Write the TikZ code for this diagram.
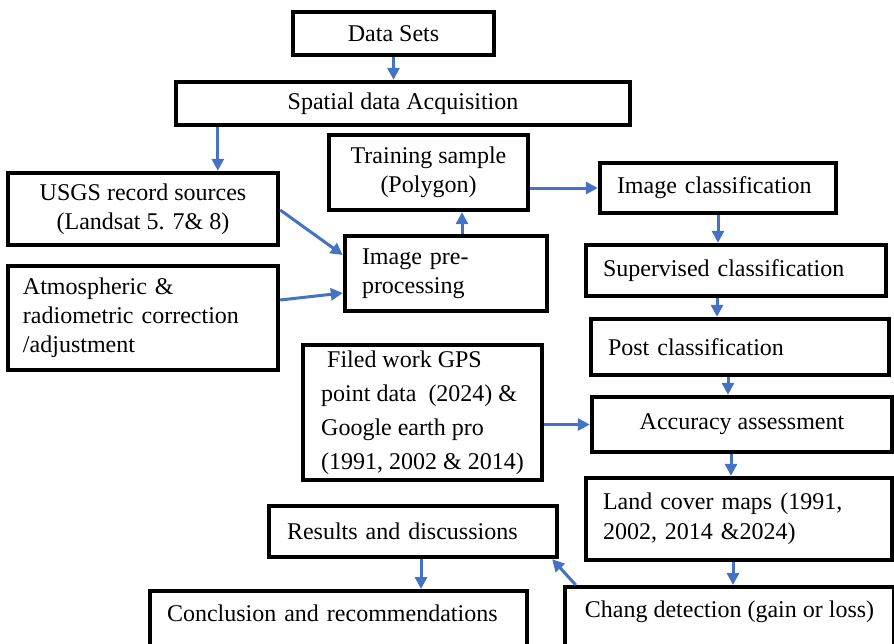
\documentclass[tikz,border=0pt]{standalone}
\usepackage{fontspec}
\setmainfont{Liberation Serif}
\usetikzlibrary{arrows.meta}
\definecolor{flowblue}{RGB}{68,114,196}

\begin{document}
\begin{tikzpicture}[x=0.5pt, y=-0.5pt, flow box/.style={draw, line width=2.2pt, fill=white, font=\fontsize{12}{14.5}\selectfont, align=center, inner sep=0pt}, flow arrow/.style={flowblue, line width=1.5pt, -{Triangle[length=6pt,width=6pt]}}]

      \useasboundingbox (0,0) rectangle (894,643);
      \clip (0,0) rectangle (894,643);

      \node[flow box, minimum width=100.5pt, minimum height=21.5pt] (1) at (393.5,33.5) {Data Sets};
      \node[flow box, minimum width=227pt, minimum height=21.5pt] (2) at (403,103.5) {Spatial data Acquisition};
      \node[flow box, minimum width=99.5pt, minimum height=37.5pt] (3) at (428.5,172.5) {Training sample\\(Polygon)};
      \node[flow box, minimum width=135pt, minimum height=36pt] (4) at (143,209) {USGS record sources\\(Landsat 5. 7\& 8)};
      \node[flow box, align=left, text width=101pt, inner xsep=8.5pt, minimum height=25pt] (5) at (718,188) {Image classification};
      \node[flow box, align=left, text width=84pt, inner xsep=8.5pt, minimum height=37.5pt] (6) at (446,273.5) {Image pre-\\processing};
      \node[flow box, align=left, text width=120pt, inner xsep=7.5pt, minimum height=52pt] (7) at (143,318) {Atmospheric \&\\radiometric correction\\/adjustment};
      \node[flow box, align=left, text width=133pt, inner xsep=8.5pt, minimum height=25.5pt] (8) at (736,270.5) {Supervised classification};
      \node[flow box, align=left, text width=132pt, inner xsep=8.5pt, minimum height=28pt] (9) at (740,347) {Post classification};
      \node[flow box, font=\fontsize{12}{17}\selectfont, align=left, minimum width=119.5pt, minimum height=67.5pt] (10) at (422.5,412.5) {\ Filed work GPS\\point data\ \ (2024) \&\\Google earth pro\\(1991, 2002 \& 2014)};
      \node[flow box, minimum width=150pt, minimum height=27.5pt] (11) at (742,424.5) {Accuracy assessment};
      \node[flow box, font=\fontsize{12}{15}\selectfont, align=left, text width=136pt, inner xsep=8.5pt, minimum height=41pt] (12) at (739,519) {Land cover maps (1991,\\2002, 2014 \&2024)};
      \node[flow box, align=left, text width=126pt, inner xsep=9pt, minimum height=25.5pt] (13) at (413,531.5) {Results and discussions};
      \node[flow box, anchor=north, align=left, text width=171.5pt, inner xsep=8.5pt, inner ysep=6pt, text height=9pt, text depth=24pt] (14) at (338.5,589) {Conclusion and recommendations};
      \node[flow box, anchor=north, align=left, minimum width=164.5pt, inner ysep=6pt, text height=9pt, text depth=24pt] (15) at (729.5,585) {Chang detection (gain or loss)};

      \path[flow arrow]
        (1.south) edge (1.south |- 2.north)
        ([xshift=22pt]2.south west) edge ([xshift=22pt]2.south west |- 4.north)
        ([yshift=-0.5pt]4.east) edge ([yshift=9.25pt]6.west)
        ([yshift=9pt]7.east) edge ([yshift=-9.75pt]6.west)
        ([xshift=8pt]6.north) edge ([xshift=8pt]6.north |- 3.south)
        (3.east |- 5.west) edge (5.west)
        (5.south) edge (5.south |- 8.north)
        ([xshift=-9.5pt]8.south) edge ([xshift=-9.5pt]8.south |- 9.north)
        ([xshift=-6pt]9.south) edge ([xshift=-6pt]9.south |- 11.north)
        (10.east |- 11.west) edge (11.west)
        ([xshift=-5.5pt]11.south) edge ([xshift=-5.5pt]11.south |- 12.north)
        ([xshift=-3pt]12.south) edge ([xshift=-3pt]12.south |- 15.north)
        ([xshift=6.5pt]15.north west) edge ([xshift=-3.5pt]13.south east)
        ([xshift=4pt]13.south) edge ([xshift=4pt]13.south |- 14.north);

    \end{tikzpicture}
\end{document}
